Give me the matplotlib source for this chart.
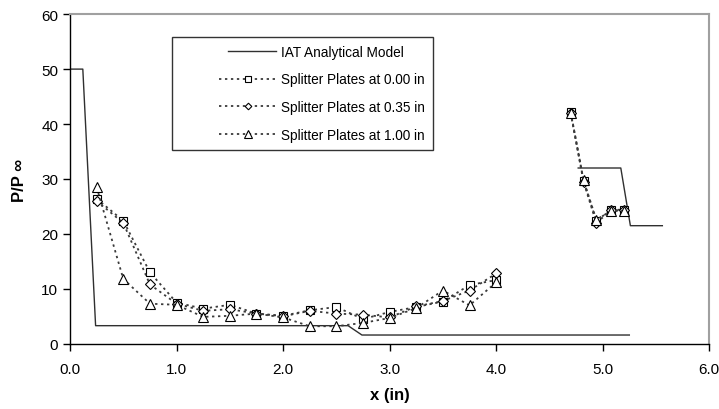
import matplotlib
matplotlib.use("Agg")
import matplotlib.pyplot as plt
from matplotlib.legend_handler import HandlerLine2D
import numpy as np

plt.rcParams['font.family'] = ['Liberation Sans', 'DejaVu Sans']

# Analytical model (NaN separates the two pieces)
model_x = [0.0, 0.12, 0.24, 2.61, 2.74, 5.25, np.nan, 4.77, 5.17, 5.26, 5.56]
model_y = [50.0, 50.0, 3.3, 3.3, 1.6, 1.6, np.nan, 32.0, 32.0, 21.5, 21.5]

# Measured data (NaN = gap between the two measured regions)
x_pts = [0.25, 0.5, 0.75, 1.0, 1.25, 1.5, 1.75, 2.0, 2.25, 2.5, 2.75, 3.0, 3.25, 3.5, 3.75, 4.0,
         np.nan, 4.70, 4.82, 4.94, 5.08, 5.20]
sp000 = [26.4, 22.4, 13.0, 7.5, 6.4, 7.1, 5.5, 5.1, 6.1, 6.7, 4.5, 5.8, 6.7, 7.7, 10.7, 11.6,
         np.nan, 42.2, 29.7, 22.4, 24.4, 24.4]
sp035 = [26.0, 22.0, 10.8, 7.3, 6.0, 6.3, 5.5, 5.0, 6.0, 5.5, 5.3, 4.8, 6.8, 7.8, 9.7, 12.8,
         np.nan, 42.0, 29.5, 22.0, 24.3, 24.3]
sp100 = [28.5, 11.8, 7.3, 7.1, 4.9, 5.1, 5.5, 4.8, 3.2, 3.2, 3.8, 4.7, 6.5, 9.7, 7.0, 11.2,
         np.nan, 42.0, 29.8, 22.6, 24.2, 24.2]

labels = ['IAT Analytical Model', 'Splitter Plates at 0.00 in',
          'Splitter Plates at 0.35 in', 'Splitter Plates at 1.00 in']


class ShiftedHandler(HandlerLine2D):
    """Draw the legend handle only in the right part of the handle box."""
    def __init__(self, shift, **kw):
        super().__init__(**kw)
        self.shift = shift

    def create_artists(self, legend, orig_handle, xdescent, ydescent, width, height, fontsize, trans):
        s = self.shift
        return super().create_artists(legend, orig_handle, xdescent - s, ydescent,
                                      width - s, height, fontsize, trans)


fig = plt.figure(figsize=(7.19, 4.10), dpi=100)
ax = fig.add_axes([0.0974, 0.159, 0.889, 0.804])

h0, = ax.plot(model_x, model_y, color='#303030', lw=1.0, label=labels[0])

dot = (0, (1.3, 2.0))
mk = dict(markerfacecolor='white', markeredgecolor='black', markeredgewidth=0.8)
h1, = ax.plot(x_pts, sp000, linestyle=dot, color='#3a3a3a', lw=1.3, marker='s', markersize=5.5, label=labels[1], **mk)
h2, = ax.plot(x_pts, sp035, linestyle=dot, color='#3a3a3a', lw=1.3, marker='D', markersize=4.8, label=labels[2], **mk)
h3, = ax.plot(x_pts, sp100, linestyle=dot, color='#3a3a3a', lw=1.3, marker='^', markersize=7.5, label=labels[3], **mk)

ax.set_xlim(0, 6)
ax.set_ylim(0, 60)
ax.set_xticks(np.arange(0, 6.01, 1.0))
ax.set_xticklabels([f"{v:.1f}" for v in np.arange(0, 6.01, 1.0)])
ax.set_yticks(np.arange(0, 61, 10))
ax.tick_params(axis='both', direction='out', length=5, width=1, labelsize=11, colors='black')
ax.tick_params(axis='x', pad=8)

for s in ['left', 'bottom']:
    ax.spines[s].set_color('black')
    ax.spines[s].set_linewidth(1.0)
for s in ['top', 'right']:
    ax.spines[s].set_color('#a0a0a0')
    ax.spines[s].set_linewidth(1.5)

ax.set_xlabel('x (in)', fontsize=12, fontweight='bold', labelpad=8)
ax.set_ylabel('P/P ∞', fontsize=12, fontweight='bold', labelpad=10)

hm = {h0: ShiftedHandler(34), h1: ShiftedHandler(28), h2: ShiftedHandler(28), h3: ShiftedHandler(28)}
leg = ax.legend(handles=[h0, h1, h2, h3], handler_map=hm,
                loc='upper left', bbox_to_anchor=(0.160, 0.932), borderaxespad=0,
                frameon=True, fancybox=False, edgecolor='black',
                prop={'size': 9.8}, handlelength=7.0, borderpad=0.6,
                labelspacing=1.0, handletextpad=0.4, markerscale=0.7)
leg.get_frame().set_linewidth(1.0)

fig.savefig('out.png', dpi=100)
